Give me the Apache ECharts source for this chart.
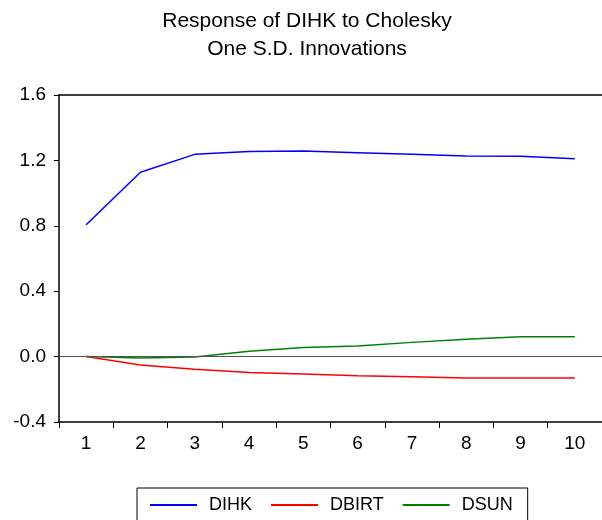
<!DOCTYPE html>
<html>
<head>
<meta charset="utf-8">
<script src="https://cdn.jsdelivr.net/npm/echarts@6/dist/echarts.min.js"></script>
<style>
  html, body { margin: 0; padding: 0; background: #fff; }
  #chart { width: 602px; height: 520px; }
</style>
</head>
<body>
<div id="chart"></div>
<script>
const periods = ["1", "2", "3", "4", "5", "6", "7", "8", "9", "10"];
const dihk = [0.806, 1.128, 1.237, 1.255, 1.257, 1.247, 1.237, 1.227, 1.226, 1.21];
const dbirt = [0.0, -0.051, -0.078, -0.098, -0.106, -0.117, -0.123, -0.131, -0.131, -0.131];
const dsun = [0.0, -0.008, -0.003, 0.032, 0.055, 0.065, 0.087, 0.106, 0.121, 0.122];
const yTicks = { min: -0.4, max: 1.6, step: 0.4 };

const font = "Liberation Sans";
const chart = echarts.init(document.getElementById("chart"));

const option = {
  animation: false,
  backgroundColor: "#fff",
  title: {
    text: "Response of DIHK to Cholesky\nOne S.D. Innovations",
    left: 302,
    textAlign: "center",
    top: 2,
    textStyle: { fontFamily: font, fontSize: 21, fontWeight: "normal", color: "#000", lineHeight: 28 }
  },
  grid: { left: 59, right: 0, top: 95, bottom: 98 },
  legend: {
    top: 488,
    left: 137,
    padding: [8, 15, 30, 13],
    borderColor: "#000",
    borderWidth: 1,
    itemGap: 19,
    itemWidth: 47,
    itemHeight: 2,
    icon: "rect",
    textStyle: { fontFamily: font, fontSize: 18, color: "#000", padding: [0, 0, 0, 7] },
    data: ["DIHK", "DBIRT", "DSUN"]
  },
  xAxis: [
    {
      type: "category",
      data: periods,
      boundaryGap: true,
      axisLine: { onZero: false, lineStyle: { color: "#000", width: 1.5 } },
      axisTick: { show: true, length: 6, lineStyle: { color: "#000" } },
      axisLabel: { fontFamily: font, fontSize: 19, color: "#000", margin: 12 },
      splitLine: { show: false }
    },
    {
      type: "category",
      data: periods,
      position: "top",
      axisLine: { onZero: false, lineStyle: { color: "#000", width: 1.5 } },
      axisTick: { show: false },
      axisLabel: { show: false }
    }
  ],
  yAxis: {
    type: "value",
    min: yTicks.min,
    max: yTicks.max,
    interval: yTicks.step,
    axisLine: { show: true, lineStyle: { color: "#000", width: 1.5 } },
    axisTick: { show: true, length: 5, lineStyle: { color: "#000" } },
    axisLabel: {
      fontFamily: font, fontSize: 19, color: "#000", margin: 13,
      formatter: v => v.toFixed(1)
    },
    splitLine: { show: false }
  },
  series: [
    {
      name: "DIHK", type: "line", data: dihk, symbol: "none",
      lineStyle: { color: "#0000ff", width: 1.5 }, itemStyle: { color: "#0000ff" },
      markLine: {
        silent: true, symbol: "none", label: { show: false },
        lineStyle: { color: "#555", width: 1, type: "solid" },
        data: [{ yAxis: 0 }]
      }
    },
    {
      name: "DBIRT", type: "line", data: dbirt, symbol: "none",
      lineStyle: { color: "#ff0000", width: 1.5 }, itemStyle: { color: "#ff0000" }
    },
    {
      name: "DSUN", type: "line", data: dsun, symbol: "none",
      lineStyle: { color: "#008000", width: 1.5 }, itemStyle: { color: "#008000" }
    }
  ]
};

chart.setOption(option);
</script>
</body>
</html>
